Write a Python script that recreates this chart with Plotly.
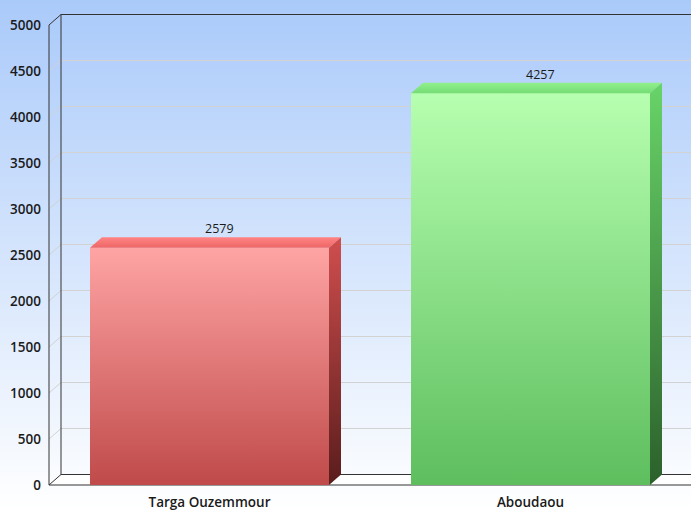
import base64, struct, zlib
import plotly.graph_objects as go

# ---- data ----
categories = ["Targa Ouzemmour", "Aboudaou"]
values = [2579, 4257]
y_ticks = [0, 500, 1000, 1500, 2000, 2500, 3000, 3500, 4000, 4500, 5000]

# ---- style ----
W, H = 691, 510
M_L, M_R, M_T, M_B = 47, 0, 8, 23
PX_PER_UNIT = 0.092            # y scale
Y0_PX = 485                    # pixel row of value 0
X_PX_PER_CAT = 321
BAR_W = 239 / 321
DEPTH_X_PX, DEPTH_Y_PX = 12, 10.5
DX = DEPTH_X_PX / X_PX_PER_CAT
DY = DEPTH_Y_PX / PX_PER_UNIT

front_cols = [("#c04a4a", "#ffa4a4"), ("#5ebe5e", "#b6ffb0")]
top_cols = [("#ee6666", "#ff8484"), ("#74dc74", "#90f08c")]
side_cols = [("#5a1c1c", "#d04e4e"), ("#2c602c", "#68d468")]
FRAME = "#333333"
GRID = "#d2d2d2"
FONT = dict(family="Open Sans, Noto Sans, sans-serif", size=13.5, color="#1a1a1a", weight=600)

plot_h = H - M_T - M_B
plot_w = W - M_L - M_R
y_lo = -((H - M_B) - Y0_PX) / PX_PER_UNIT
y_hi = (Y0_PX - M_T) / PX_PER_UNIT
x_hi = 1.5
x_lo = x_hi - plot_w / X_PX_PER_CAT
XL = -0.5  # front-left wall x

fig = go.Figure()

# bars (front faces)
fig.add_trace(go.Bar(x=list(range(len(categories))), y=values, width=BAR_W,
                     marker=dict(color=[c[1] for c in front_cols], line=dict(width=0)),
                     hoverinfo="skip", showlegend=False))

for i, v in enumerate(values):
    l, r = i - BAR_W / 2, i + BAR_W / 2
    # front gradient
    fig.add_trace(go.Scatter(x=[l, r, r, l, l], y=[0, 0, v, v, 0], mode="none",
                             fill="toself", fillgradient=dict(type="vertical",
                             colorscale=[[0, front_cols[i][0]], [1, front_cols[i][1]]]),
                             hoverinfo="skip", showlegend=False))
    # top face
    fig.add_trace(go.Scatter(x=[l, r, r + DX, l + DX, l], y=[v, v, v + DY, v + DY, v],
                             mode="none", fill="toself", fillgradient=dict(type="vertical",
                             colorscale=[[0, top_cols[i][0]], [1, top_cols[i][1]]]),
                             hoverinfo="skip", showlegend=False))
    # side face
    fig.add_trace(go.Scatter(x=[r, r + DX, r + DX, r, r], y=[0, DY, v + DY, v, 0],
                             mode="none", fill="toself", fillgradient=dict(type="vertical",
                             colorscale=[[0, side_cols[i][0]], [1, side_cols[i][1]]]),
                             hoverinfo="skip", showlegend=False))
    fig.add_annotation(x=i + DX / 2, y=v + DY, text=str(v), showarrow=False,
                       yanchor="bottom", yshift=-2, xshift=4,
                       font=dict(FONT, size=12.5, weight=400))

shapes = []
# floor
shapes.append(dict(type="path", layer="below", line=dict(width=0), fillcolor="white",
                   path=f"M {XL},0 L {x_hi},0 L {x_hi},{DY} L {XL + DX},{DY} Z"))
# grid lines on back wall + side wall
for t in y_ticks[1:]:
    shapes.append(dict(type="line", layer="below", x0=XL + DX, x1=x_hi, y0=t + DY, y1=t + DY,
                       line=dict(color=GRID, width=1)))
    if t != y_ticks[-1]:
        shapes.append(dict(type="line", layer="below", x0=XL, x1=XL + DX, y0=t, y1=t + DY,
                           line=dict(color=GRID, width=1)))
# frame lines
top = y_ticks[-1]
frame = [
    (XL, 0, XL, top), (XL + DX, DY, XL + DX, top + DY), (XL, top, XL + DX, top + DY),
    (XL + DX, top + DY, x_hi, top + DY), (XL, 0, x_hi, 0), (XL + DX, DY, x_hi, DY),
    (XL, 0, XL + DX, DY),
]
for x0, y0, x1, y1 in frame:
    shapes.append(dict(type="line", layer="below", x0=x0, y0=y0, x1=x1, y1=y1,
                       line=dict(color=FRAME, width=1)))

# background gradient image (vertical, built as a tiny PNG)
def grad_png(h, c0, c1):
    raw = b""
    for row in range(h):
        f = row / (h - 1)
        px = bytes(int(round(c0[k] + (c1[k] - c0[k]) * f)) for k in range(3))
        raw += b"\x00" + px
    def chunk(tag, data):
        return struct.pack(">I", len(data)) + tag + data + struct.pack(">I", zlib.crc32(tag + data) & 0xffffffff)
    png = b"\x89PNG\r\n\x1a\n" + chunk(b"IHDR", struct.pack(">IIBBBBB", 1, h, 8, 2, 0, 0, 0))
    png += chunk(b"IDAT", zlib.compress(raw)) + chunk(b"IEND", b"")
    return "data:image/png;base64," + base64.b64encode(png).decode()

bg = grad_png(H, (170, 202, 250), (255, 255, 255))

fig.update_layout(
    width=W, height=H, margin=dict(l=M_L, r=M_R, t=M_T, b=M_B, pad=0),
    paper_bgcolor="white", plot_bgcolor="rgba(0,0,0,0)",
    shapes=shapes, font=FONT, showlegend=False, bargap=0,
    images=[dict(source=bg, xref="paper", yref="paper", x=-M_L / plot_w, y=1 + M_T / plot_h,
                 sizex=W / plot_w, sizey=H / plot_h, sizing="stretch", xanchor="left",
                 yanchor="top", layer="below")],
    xaxis=dict(range=[x_lo, x_hi], tickvals=list(range(len(categories))), ticktext=categories,
               showgrid=False, zeroline=False, showline=False, ticks="", tickfont=FONT,
               ticklabelstandoff=5),
    yaxis=dict(range=[y_lo, y_hi], tickvals=y_ticks, showgrid=False, zeroline=False,
               showline=False, ticks="", tickfont=FONT, ticklabelstandoff=5),
)

fig.write_html("out.html")
